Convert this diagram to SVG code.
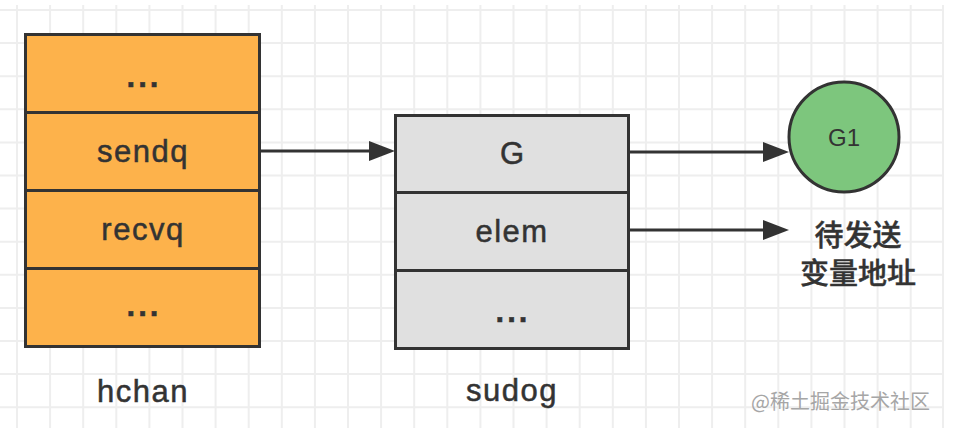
<svg xmlns="http://www.w3.org/2000/svg" width="956" height="444" viewBox="0 0 956 444">
  <style>
    .box { stroke: #333333; stroke-width: 3; }
    .orange { fill: #FDB24B; }
    .grey { fill: #E0E0E0; }
    .lbl { font-family: "Liberation Sans", Arial, sans-serif; font-size: 31px; fill: #333333; stroke: #333333; stroke-width: 0.5; text-anchor: middle; letter-spacing: 1.5px; }
    .dots { font-weight: 700; letter-spacing: 3px; }
    .cn { font-family: "Noto Sans CJK SC", sans-serif; font-size: 29px; font-weight: 500; fill: #333333; stroke: #333333; stroke-width: 0.4; text-anchor: middle; }
    .conn { stroke: #333333; stroke-width: 3; fill: none; }
    .grid { stroke: #EEEEEE; stroke-width: 2; fill: none; }
  </style>
  <defs>
    <marker id="arrow" markerUnits="userSpaceOnUse" markerWidth="28" markerHeight="22" refX="16" refY="11" orient="auto">
      <path d="M1,1 L27,11 L1,21 Z" fill="#333333"/>
    </marker>
  </defs>
  <rect x="0" y="0" width="956" height="444" fill="#FFFFFF"/>
  <g id="grid">
    <path class="grid" d="M17,5V428 M50.1,5V428 M83.2,5V428 M116.3,5V428 M149.4,5V428 M182.5,5V428 M215.6,5V428 M248.7,5V428 M281.8,5V428 M314.9,5V428 M348,5V428 M381.1,5V428 M414.2,5V428 M447.3,5V428 M480.4,5V428 M513.5,5V428 M546.6,5V428 M579.7,5V428 M612.8,5V428 M645.9,5V428 M679,5V428 M712.1,5V428 M745.2,5V428 M778.3,5V428 M811.4,5V428 M844.5,5V428 M877.6,5V428 M910.7,5V428 M943,5V428 M0,10H944 M0,43.1H944 M0,76.2H944 M0,109.3H944 M0,142.4H944 M0,175.5H944 M0,208.6H944 M0,241.7H944 M0,274.8H944 M0,307.9H944 M0,341H944 M0,374.1H944 M0,407.2H944"/>
  </g>
  <g id="connectors">
    <line class="conn" x1="260" y1="151" x2="384" y2="151" marker-end="url(#arrow)"/>
    <line class="conn" x1="628" y1="152" x2="778" y2="152" marker-end="url(#arrow)"/>
    <line class="conn" x1="628" y1="230" x2="778" y2="230" marker-end="url(#arrow)"/>
  </g>
  <g id="hchan">
    <rect class="box orange" x="25.5" y="34.5" width="234" height="78"/>
    <rect class="box orange" x="25.5" y="112.5" width="234" height="78"/>
    <rect class="box orange" x="25.5" y="190.5" width="234" height="78"/>
    <rect class="box orange" x="25.5" y="268.5" width="234" height="78"/>
    <text class="lbl dots" x="144" y="87">...</text>
    <text class="lbl" x="143" y="162">sendq</text>
    <text class="lbl" x="143" y="240">recvq</text>
    <text class="lbl dots" x="144" y="316">...</text>
    <text class="lbl" x="143" y="402">hchan</text>
  </g>
  <g id="sudog">
    <rect class="box grey" x="395.5" y="115.5" width="233" height="77"/>
    <rect class="box grey" x="395.5" y="192.5" width="233" height="78"/>
    <rect class="box grey" x="395.5" y="270.5" width="233" height="78"/>
    <text class="lbl" x="512" y="164" style="letter-spacing:0">G</text>
    <text class="lbl" x="512" y="242">elem</text>
    <text class="lbl dots" x="513" y="322">...</text>
    <text class="lbl" x="512" y="401">sudog</text>
  </g>
  <g id="G1">
    <circle cx="844" cy="137" r="55" fill="#7DC67D" stroke="#333333" stroke-width="3"/>
    <text x="844" y="146" font-family="Liberation Sans, Arial, sans-serif" font-size="24" fill="#333333" text-anchor="middle">G1</text>
  </g>
  <g id="elem-target">
    <text class="cn" x="858" y="246">待发送</text>
    <text class="cn" x="858" y="284">变量地址</text>
  </g>
  <text x="930" y="409" font-family="Noto Sans CJK SC, sans-serif" font-size="20" fill="#A6A6A6" text-anchor="end">@稀土掘金技术社区</text>
</svg>
